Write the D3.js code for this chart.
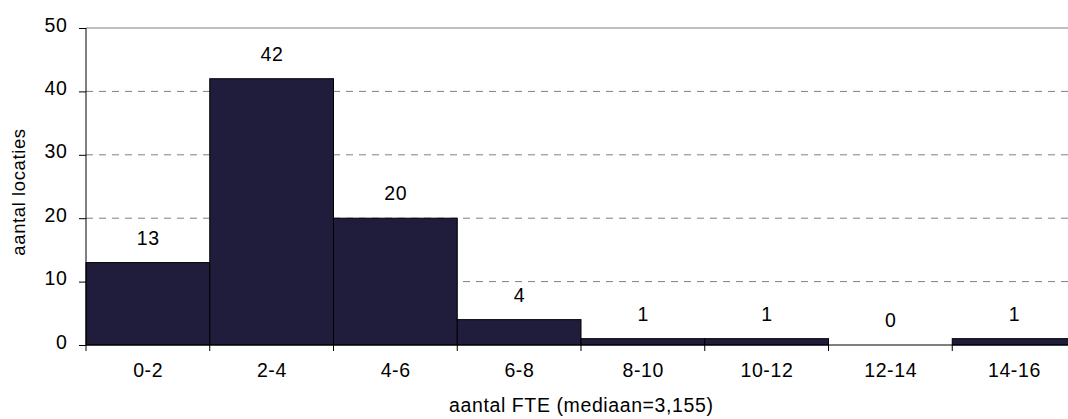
<!DOCTYPE html>
<html>
<head>
<meta charset="utf-8">
<script src="https://cdn.jsdelivr.net/npm/d3@7"></script>
<style>
  html, body { margin: 0; padding: 0; background: #fff; }
  svg { display: block; font-family: "Liberation Sans", Arial, sans-serif; }
  svg text { letter-spacing: 0.6px; }
</style>
</head>
<body>
<svg id="chart" width="1068" height="419"></svg>
<script>
// FTE classes and number of locations per class
const categories = ["0-2", "2-4", "4-6", "6-8", "8-10", "10-12", "12-14", "14-16"];
const counts = [13, 42, 20, 4, 1, 1, 0, 1];
const yTicks = [0, 10, 20, 30, 40, 50];
const xTitle = "aantal FTE (mediaan=3,155)";
const yTitle = "aantal locaties";

const svg = d3.select("#chart");
const plotLeft = 86, plotRight = 1076, plotTop = 28, plotBottom = 345;
const fontSize = 19.5;

const x = d3.scaleBand().domain(categories).range([plotLeft, plotRight]).paddingInner(0).paddingOuter(0);
const y = d3.scaleLinear().domain([0, 50]).range([plotBottom, plotTop]);

// gridlines
svg.append("g").selectAll("line")
  .data(yTicks.filter(t => t > 0))
  .join("line")
  .attr("x1", plotLeft).attr("x2", plotRight)
  .attr("y1", d => y(d)).attr("y2", d => y(d))
  .attr("stroke", "#808080")
  .attr("stroke-width", 1)
  .attr("stroke-dasharray", d => d === 50 ? null : "7,6");

// bars
svg.append("g").selectAll("rect")
  .data(categories)
  .join("rect")
  .attr("x", d => x(d))
  .attr("width", x.bandwidth())
  .attr("y", (d, i) => y(counts[i]))
  .attr("height", (d, i) => y(0) - y(counts[i]))
  .attr("fill", "#1f1d3b")
  .attr("stroke", "#000")
  .attr("stroke-width", 1);

// value labels
svg.append("g").selectAll("text")
  .data(categories)
  .join("text")
  .attr("x", d => x(d) + x.bandwidth() / 2 + 0.3)
  .attr("y", (d, i) => y(counts[i]) - 18)
  .attr("text-anchor", "middle")
  .attr("font-size", fontSize)
  .attr("fill", "#000")
  .text((d, i) => counts[i]);

// y axis
const yAxis = d3.axisLeft(y).tickValues(yTicks).tickSize(7).tickPadding(11.5);
const yg = svg.append("g").attr("transform", `translate(${plotLeft},0)`).call(yAxis);
yg.select(".domain").attr("stroke", "#000").attr("d", `M0,${plotTop}V${plotBottom}`);
yg.selectAll(".tick line").attr("stroke", "#000");
yg.selectAll(".tick text").attr("font-size", fontSize).attr("font-family", null).attr("fill", "#000").attr("dy", "3px");

// x axis: ticks on category boundaries
svg.append("line")
  .attr("x1", plotLeft).attr("x2", plotRight)
  .attr("y1", plotBottom).attr("y2", plotBottom)
  .attr("stroke", "#000");
const boundaries = categories.map(c => x(c)).concat([plotRight]);
svg.append("g").selectAll("line")
  .data(boundaries)
  .join("line")
  .attr("x1", d => d).attr("x2", d => d)
  .attr("y1", plotBottom).attr("y2", plotBottom + 6)
  .attr("stroke", "#000");
svg.append("g").selectAll("text")
  .data(categories)
  .join("text")
  .attr("x", d => x(d) + x.bandwidth() / 2 + 0.3)
  .attr("y", 377)
  .attr("text-anchor", "middle")
  .attr("font-size", fontSize)
  .attr("fill", "#000")
  .text(d => d);

// axis titles
svg.append("text")
  .attr("x", (plotLeft + plotRight) / 2 + 0.3)
  .attr("y", 412)
  .attr("text-anchor", "middle")
  .attr("font-size", fontSize)
  .attr("fill", "#000")
  .text(xTitle);

svg.append("text")
  .attr("transform", `translate(25,192) rotate(-90)`)
  .attr("text-anchor", "middle")
  .attr("font-size", 18.5)
  .attr("fill", "#000")
  .text(yTitle);
</script>
</body>
</html>
